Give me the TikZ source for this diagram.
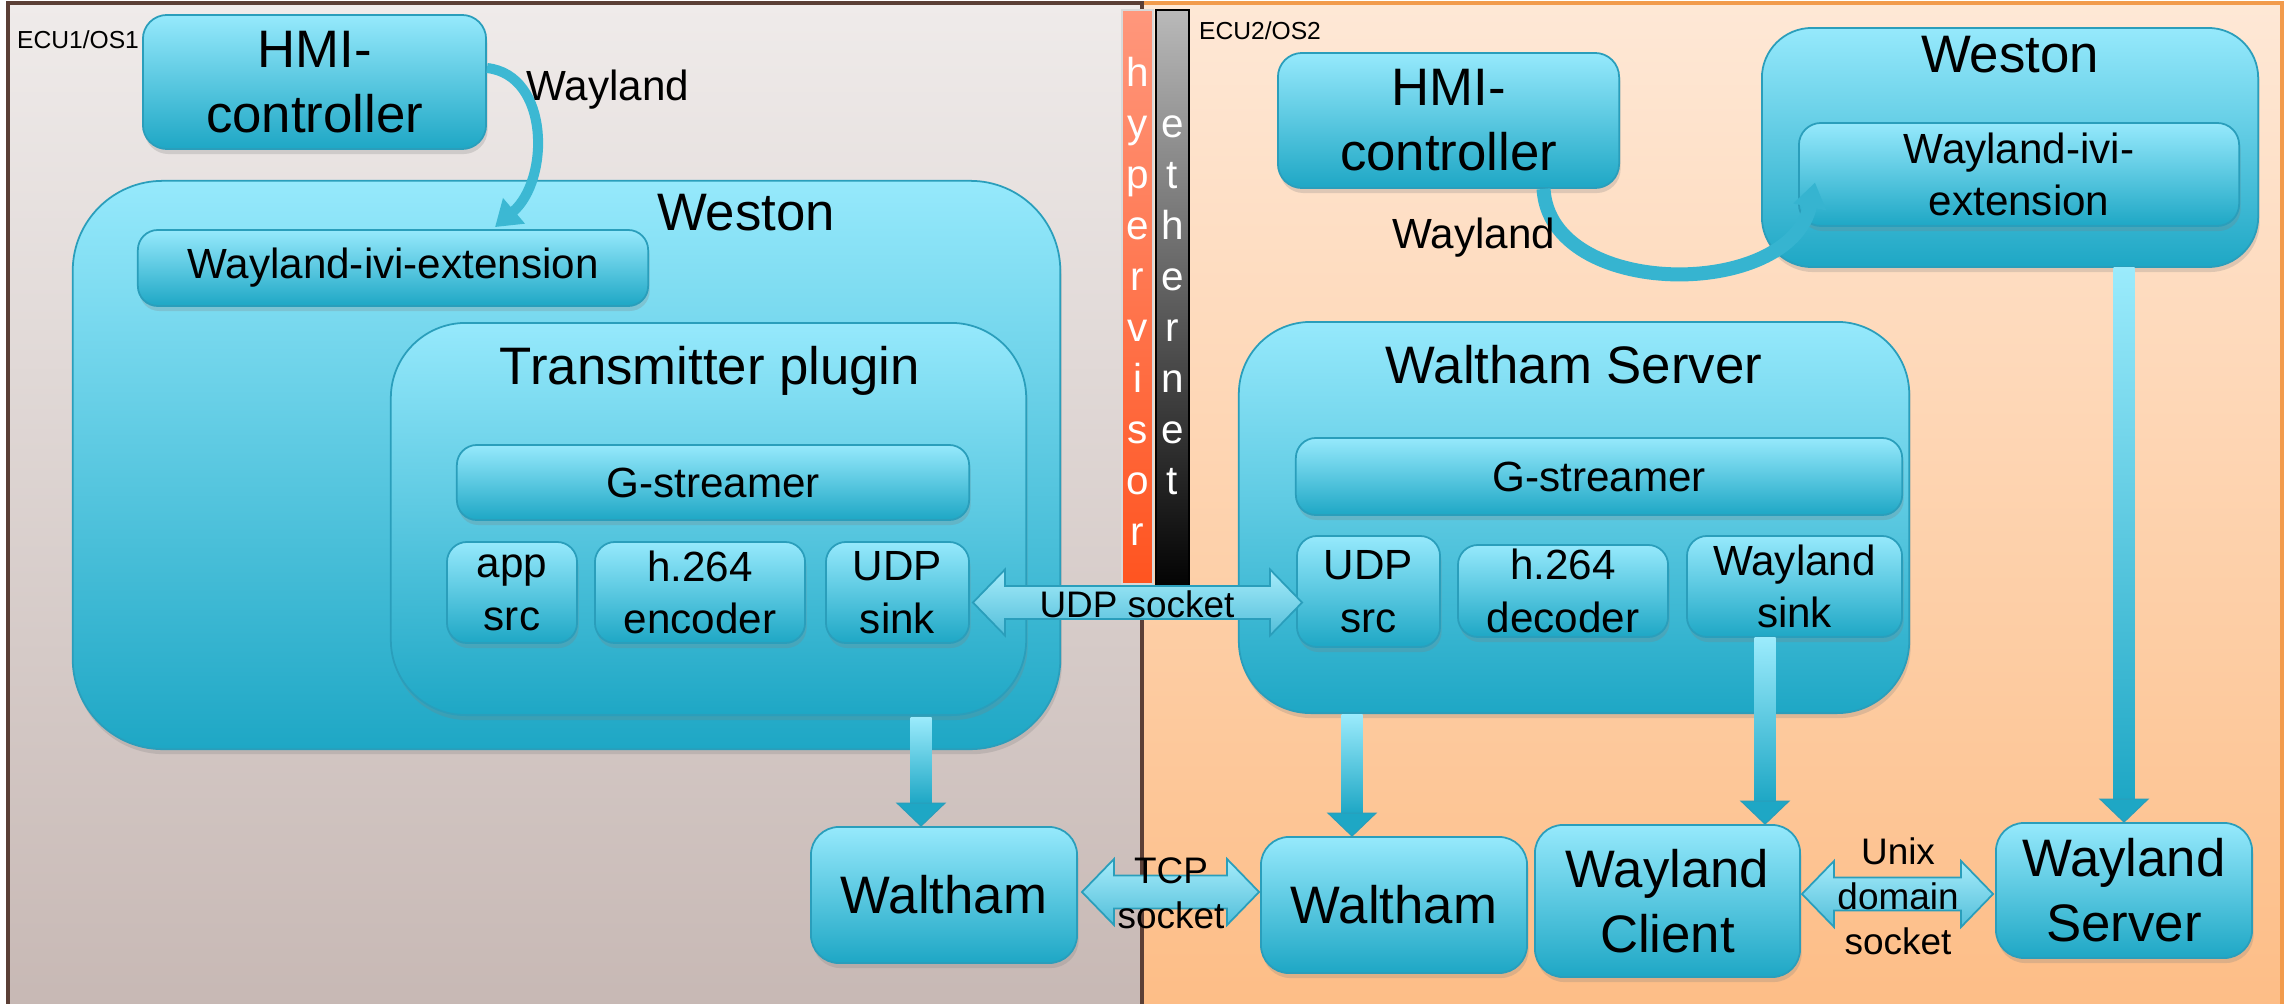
\documentclass[tikz,border=0pt]{standalone}
\usepackage{fontspec}
\setmainfont{Liberation Sans}
\usetikzlibrary{arrows.meta,calc,shadows}
\definecolor{boxtop}{HTML}{96E9FC}
\definecolor{boxbot}{HTML}{1EA7C5}
\definecolor{boxline}{HTML}{2A9EBB}
\definecolor{shafttop}{HTML}{9BEBFC}
\definecolor{arrtop}{HTML}{A6ECFB}
\definecolor{arrbot}{HTML}{52BED9}
\definecolor{lefttop}{HTML}{EFEBEA}
\definecolor{leftbot}{HTML}{C7B8B4}
\definecolor{leftline}{HTML}{5B3F36}
\definecolor{righttop}{HTML}{FEE8D6}
\definecolor{rightbot}{HTML}{FDBD86}
\definecolor{rightline}{HTML}{F29B4C}
\definecolor{hvtop}{HTML}{FF977C}
\definecolor{hvbot}{HTML}{FF5420}
\definecolor{ethtop}{HTML}{B9B9B9}
\definecolor{ethbot}{HTML}{030303}
\tikzset{
  box/.style={draw=boxline, line width=0.5pt, top color=boxtop, bottom color=boxbot,
    rounded corners=0.22cm, align=center, inner sep=0pt,
    drop shadow={shadow xshift=0.015cm, shadow yshift=-0.05cm, opacity=0.25}},
  bigfont/.style={font=\fontsize{15}{18.5}\selectfont},
  midfont/.style={font=\fontsize{12}{15}\selectfont},
  smallfont/.style={font=\fontsize{10.5}{12.8}\selectfont},
  ecufont/.style={font=\fontsize{7}{8}\selectfont},
  barletter/.style={anchor=base, text=white, font=\fontsize{11.5}{12}\selectfont, inner sep=0pt},
  curvearr/.style={line width=#1, -{Triangle[width=0.32cm,length=0.25cm]}},
  fatarr/.style={draw=boxline, line width=0.5pt, top color=arrtop, bottom color=arrbot},
}
\newcommand{\fatarrow}[2]{%
  \path[fatarr] let \p1=(#1), \p2=(#2) in
    (\x1,\y1) -- (\x1+0.32cm,\y1+0.33cm) -- (\x1+0.32cm,\y1+0.165cm) -- (\x2-0.32cm,\y1+0.165cm)
    -- (\x2-0.32cm,\y1+0.33cm) -- (\x2,\y1) -- (\x2-0.32cm,\y1-0.33cm) -- (\x2-0.32cm,\y1-0.165cm)
    -- (\x1+0.32cm,\y1-0.165cm) -- (\x1+0.32cm,\y1-0.33cm) -- cycle;}
\newcommand{\downarrowto}[2]{%
  \shade[top color=shafttop, bottom color=boxbot] let \p1=(#1), \p2=(#2) in
    (\x1-0.105cm,\y1) rectangle (\x1+0.105cm,\y2+0.23cm);
  \filldraw[fill=boxbot, draw=boxline, line width=0.3pt] let \p1=(#1), \p2=(#2) in
    (\x1-0.24cm,\y2+0.23cm) -- (\x1+0.24cm,\y2+0.23cm) -- (\x1,\y2) -- cycle;}
\begin{document}
\begin{tikzpicture}[x=0.01cm,y=-0.01cm]
\useasboundingbox (0,0) rectangle (2289,1003);
\shade[top color=righttop, bottom color=rightbot, draw=rightline, line width=1pt] (1142,3) rectangle (2282,1012);
\shade[top color=lefttop, bottom color=leftbot, draw=leftline, line width=1pt] (8,3) rectangle (1142,1012);
\shade[top color=hvtop, bottom color=hvbot, draw=black!15, line width=0.5pt] (1122,10) rectangle (1153,584);
\shade[top color=ethtop, bottom color=ethbot, draw=black, line width=0.6pt] (1156,10) rectangle (1189,586);
\foreach \ch [count=\i from 0] in {h,y,p,e,r,v,i,s,o,r}
  \node[barletter] (hv\i) at (1137.5,86+51*\i) {\ch};
\foreach \ch [count=\i from 1] in {e,t,h,e,r,n,e,t}
  \node[barletter] (eth\i) at (1172.5,86+51*\i) {\ch};
\node[ecufont, anchor=base] (ecu1) at (78,48) {ECU1/OS1};
\node[ecufont, anchor=base] (ecu2) at (1260,39) {ECU2/OS2};

\node[box, rounded corners=0.9cm, minimum width=9.87cm, minimum height=5.68cm] (westonL) at (566.5,465) {};
\node[bigfont, anchor=base] (westonLt) at (746,230) {Weston};
\node[box, midfont, rounded corners=0.2cm, minimum width=5.1cm, minimum height=0.76cm] (iviL) at (393,268) {Wayland-ivi-extension};
\node[box, rounded corners=0.75cm, minimum width=6.35cm, minimum height=3.92cm] (trans) at (708.5,519) {};
\node[bigfont, anchor=base] (transt) at (710,384) {Transmitter plugin};
\node[box, midfont, rounded corners=0.2cm, minimum width=5.12cm, minimum height=0.75cm] (gstL) at (713,482.5) {G-streamer};
\node[box, midfont, rounded corners=0.2cm, minimum width=1.3cm, minimum height=1.01cm] (appsrc) at (512,592.5) {app\\src};
\node[box, midfont, rounded corners=0.2cm, minimum width=2.1cm, minimum height=1.01cm] (enc) at (700,592.5) {h.264\\encoder};
\node[box, midfont, rounded corners=0.2cm, minimum width=1.43cm, minimum height=1.01cm] (udpsink) at (897.5,592.5) {UDP\\sink};
\node[box, bigfont, rounded corners=0.24cm, minimum width=3.43cm, minimum height=1.34cm] (hmiL) at (314.5,82) {HMI-\\controller};
\node[box, bigfont, rounded corners=0.28cm, minimum width=2.66cm, minimum height=1.36cm] (walthamL) at (944,895) {Waltham};

\node[box, bigfont, rounded corners=0.24cm, minimum width=3.41cm, minimum height=1.35cm] (hmiR) at (1448.5,120.5) {HMI-\\controller};
\node[box, rounded corners=0.5cm, minimum width=4.96cm, minimum height=2.39cm] (westonR) at (2010,147.5) {};
\node[bigfont, anchor=base] (westonRt) at (2010,72) {Weston};
\node[box, midfont, rounded corners=0.22cm, minimum width=4.4cm, minimum height=1.03cm] (iviR) at (2019,174.5) {Wayland-ivi-\\extension};
\node[box, rounded corners=0.72cm, minimum width=6.7cm, minimum height=3.91cm] (wserver) at (1574,517.5) {};
\node[bigfont, anchor=base] (wservert) at (1574,383) {Waltham Server};
\node[box, midfont, rounded corners=0.2cm, minimum width=6.06cm, minimum height=0.77cm] (gstR) at (1599,476.5) {G-streamer};
\node[box, midfont, rounded corners=0.2cm, minimum width=1.43cm, minimum height=1.11cm] (udpsrc) at (1368.5,591.5) {UDP\\src};
\node[box, midfont, rounded corners=0.2cm, minimum width=2.1cm, minimum height=0.92cm] (dec) at (1563,591) {h.264\\decoder};
\node[box, midfont, rounded corners=0.2cm, minimum width=2.15cm, minimum height=1.01cm] (wsink) at (1794.5,586.5) {Wayland\\sink};
\node[box, bigfont, rounded corners=0.28cm, minimum width=2.66cm, minimum height=1.36cm] (walthamR) at (1394,905) {Waltham};
\node[box, bigfont, rounded corners=0.28cm, minimum width=2.65cm, minimum height=1.52cm] (wclient) at (1667.5,901) {Wayland\\Client};
\node[box, bigfont, rounded corners=0.28cm, minimum width=2.56cm, minimum height=1.35cm] (wserverB) at (2124,890.5) {Wayland\\Server};

\draw[curvearr=0.1cm, draw=boxbot!75!boxtop] ($(hmiL.east)+(0,-14)$) .. controls (550,75) and (550,180) .. ($(iviL.north)+(102,-2)$);
\node[midfont, anchor=base] (wlL) at (608,100) {Wayland};
\draw[curvearr=0.14cm, draw=boxbot!80!boxtop] ($(hmiR.south)+(95,0)$) .. controls (1550,300) and (1790,300) .. ($(iviR.west)+(17,8)$);
\node[midfont, anchor=base] (wlR) at (1474,248) {Wayland};

\coordinate (udpA) at ($(udpsink.east)+(3,10)$);
\coordinate (udpB) at ($(udpsrc.west)+(6,11)$);
\fatarrow{udpA}{udpB}
\node[smallfont, anchor=base] (udplbl) at (1137,617) {UDP socket};
\coordinate (tcpA) at ($(walthamL.east)+(4,-3)$);
\coordinate (tcpB) at ($(walthamR.west)+(-1,-13)$);
\fatarrow{tcpA}{tcpB}
\node[smallfont, align=center] (tcplbl) at (1171,893) {TCP\\socket};
\coordinate (unixA) at ($(wclient.east)+(1,-7)$);
\coordinate (unixB) at ($(wserverB.west)+(-2,3.5)$);
\fatarrow{unixA}{unixB}
\node[smallfont, align=center] (unixlbl) at (1898,896) {Unix\\domain\\socket};

\coordinate (d1) at ($(trans.south)+(212.5,1)$);
\coordinate (d2) at ($(wserver.south)+(-222,0)$);
\coordinate (d3) at ($(wsink.south)+(-29.5,0)$);
\coordinate (d4) at (westonR.south -| wserverB.north);
\downarrowto{d1}{walthamL.north}
\downarrowto{d2}{walthamR.north}
\downarrowto{d3}{wclient.north}
\downarrowto{d4}{wserverB.north}
\end{tikzpicture}
\end{document}
